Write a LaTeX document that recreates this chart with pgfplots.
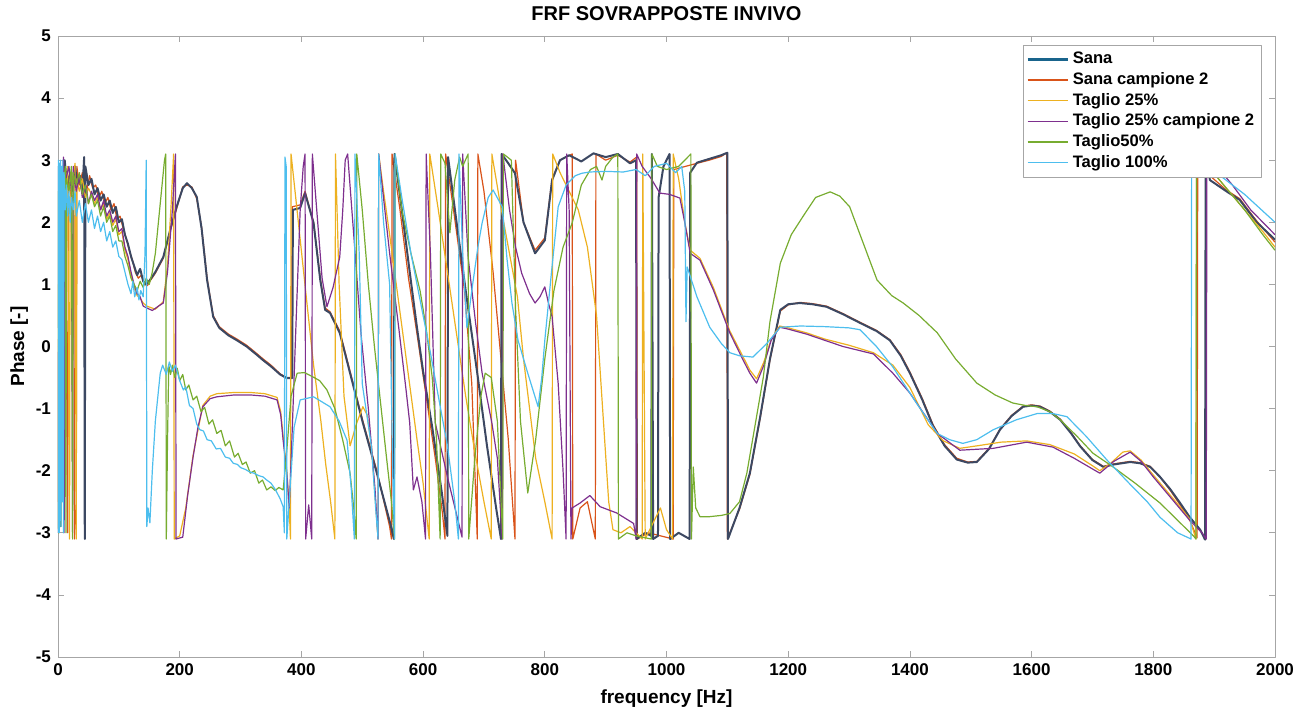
\documentclass[border=0pt]{standalone}
\usepackage{pgfplots}
\pgfplotsset{compat=1.18}
\usepackage{fontspec}
\setmainfont{Liberation Sans}
\definecolor{cSana}{RGB}{25,100,140}
\definecolor{cSanaLine}{RGB}{60,72,98}
\definecolor{cSanaB}{RGB}{217,83,25}
\definecolor{cTa}{RGB}{237,177,32}
\definecolor{cTb}{RGB}{126,47,142}
\definecolor{cTc}{RGB}{119,172,48}
\definecolor{cTd}{RGB}{77,190,238}
\begin{document}
\begin{tikzpicture}
\begin{axis}[
    name=ax,
    scale only axis,
    width=608.5pt, height=310.5pt,
    xmin=0, xmax=2000, ymin=-5, ymax=5,
    xtick={0,200,...,2000}, ytick={-5,-4,...,5},
    tick align=inside,
    major tick length=3pt,
    axis line style={gray!70},
    every tick/.style={gray!70},
    /pgf/number format/assume math mode=true,
    /pgf/number format/1000 sep={},
    tick label style={font=\fontsize{8.5}{10}\selectfont\bfseries},
    xlabel={frequency [Hz]},
    ylabel={Phase [-]},
    ylabel style={yshift=-3pt},
    label style={font=\fontsize{9.5}{11}\selectfont\bfseries},
    title={FRF SOVRAPPOSTE INVIVO},
    title style={font=\fontsize{10}{12}\selectfont\bfseries, yshift=-2pt},
    legend style={at={(0.989,0.9855)}, anchor=north east, draw=gray!70,
        font=\fontsize{8.3}{10}\selectfont\bfseries, row sep=-1.2pt,
        inner sep=1.5pt, cells={anchor=west}},
    legend cell align=left,
    legend image code/.code={\draw[#1] (0pt,0pt) -- (20pt,0pt);},
    line join=round,
]
\addlegendimage{cSana, line width=1.3pt}\addlegendentry{Sana}
\addlegendimage{cSanaB, line width=0.6pt}\addlegendentry{Sana campione 2}
\addlegendimage{cTa, line width=0.6pt}\addlegendentry{Taglio 25\%}
\addlegendimage{cTb, line width=0.6pt}\addlegendentry{Taglio 25\% campione 2}
\addlegendimage{cTc, line width=0.6pt}\addlegendentry{Taglio50\%}
\addlegendimage{cTd, line width=0.6pt}\addlegendentry{Taglio 100\%}

% Sana campione 2
\addplot[cSanaB, line width=0.6pt, forget plot] coordinates {
(0,-2.5)(2,2.8)(6,2.2)(12,2.9)(16,-3.0)(17,2.7)(22,2.4)(26,2.9)(27,-3.1)(30,-2.5)(31,2.9)(35,2.6)(40,2.8)(47,2.5)(52,2.75)(57,2.55)(62,2.6)(67,2.4)(72,2.5)(77,2.3)(82,2.4)(87,2.2)(92,2.3)(97,2.05)(102,2.1)(107,1.9)(112,1.75)(117,1.55)(122,1.4)(127,1.2)(132,1.1)(137,1.15)(142,1.0)(147,0.98)(151,1.05)(160,1.18)(173,1.42)(185,1.88)(195,2.22)(205,2.57)(212,2.6)(220,2.57)(228,2.38)(236,1.92)(245,1.1)(255,0.5)(265,0.32)(280,0.2)(294,0.12)(310,0.02)(325,-0.1)(337,-0.2)(350,-0.3)(365,-0.44)(376,-0.5)(384,-0.5)
(385,2.25)(398,2.28)(406,2.5)(420,2.0)(431,1.1)(439,0.62)(447,0.56)(463,0.25)(480,-0.4)(501,-1.2)(524,-2.0)(545,-2.9)(548,-3.1)(549,3.1)(562,2.2)(576,1.1)(590,0.2)(605,-0.8)(620,-1.8)(632,-2.7)(636,-3.1)(637,3.1)(650,2.2)(668,0.9)(680,-0.6)(689,-3.1)(690,3.1)(700,2.5)(715,1.2)(728,-0.2)(740,-1.5)(751,-3.1)(752,3.0)(765,2.0)(784,1.55)(800,1.75)(812,2.7)(825,3.0)(845,3.1)(846,-3.1)(858,-2.6)(870,-2.5)(883,-3.1)(884,3.1)(900,3.0)(920,3.08)(940,2.97)(951,3.05)(952,-3.1)(970,-3.0)(1011,-3.1)(1012,2.85)(1050,2.95)(1070,3.0)(1090,3.06)(1099,3.12)(1100,-3.1)
(1120,-2.62)(1137,-2.06)(1154,-1.15)(1170,-0.22)(1187,0.57)(1200,0.67)(1219,0.71)(1240,0.69)(1263,0.65)(1290,0.53)(1318,0.39)(1345,0.26)(1367,0.11)(1385,-0.13)(1400,-0.41)(1420,-0.83)(1438,-1.26)(1457,-1.58)(1477,-1.8)(1495,-1.86)(1510,-1.85)(1530,-1.64)(1548,-1.33)(1567,-1.11)(1586,-0.96)(1600,-0.94)(1614,-0.96)(1630,-1.04)(1647,-1.17)(1665,-1.39)(1680,-1.6)(1700,-1.82)(1718,-1.93)(1735,-1.89)(1762,-1.85)(1778,-1.87)(1795,-1.93)(1811,-2.1)(1828,-2.32)(1844,-2.55)(1860,-2.8)(1872,-3.08)(1873,3.1)(1893,2.75)(1920,2.52)(1942,2.38)(1970,2.02)(2000,1.68)
};
% Sana
\addplot[cSanaLine, line width=1.0pt, forget plot] coordinates {
(0,0.3)(1,2.9)(3,-2.9)(5,2.8)(8,2.4)(10,-2.0)(11,3.0)(15,2.6)(20,2.8)(25,2.5)(28,2.9)(32,2.6)(36,2.75)(40,2.5)(43,3.05)(44,-3.1)(45,2.9)(50,2.6)(55,2.7)(60,2.45)(65,2.55)(70,2.35)(75,2.45)(80,2.25)(85,2.35)(90,2.15)(95,2.25)(100,2.0)(105,2.05)(110,1.8)(115,1.65)(120,1.45)(125,1.3)(130,1.15)(135,1.25)(140,1.05)(145,1.0)(151,1.07)(160,1.2)(173,1.44)(185,1.9)(195,2.25)(205,2.55)(212,2.63)(220,2.55)(228,2.41)(236,1.9)(245,1.07)(255,0.48)(265,0.3)(280,0.18)(294,0.1)(310,0.0)(325,-0.12)(337,-0.22)(350,-0.32)(365,-0.45)(376,-0.51)(385,-0.51)
(386,2.2)(398,2.23)(406,2.47)(420,1.99)(431,1.07)(439,0.59)(447,0.54)(463,0.22)(480,-0.43)(501,-1.23)(524,-2.04)(546,-2.85)(552,-3.1)(553,3.1)(565,2.2)(578,1.2)(590,0.3)(600,-0.4)(615,-1.3)(630,-2.3)(640,-3.05)(641,3.05)(655,2.0)(670,0.9)(690,-0.5)(705,-1.6)(720,-2.6)(728,-3.1)(729,3.1)(740,2.95)(751,2.79)(765,2.0)(784,1.5)(800,1.71)(812,2.68)(825,3.0)(840,3.08)(860,2.98)(880,3.11)(900,3.05)(920,3.1)(940,2.95)(950,3.0)(951,-3.1)(965,-3.0)(975,-3.05)(976,3.1)(978,-3.1)(986,-3.05)(987,2.4)(995,2.9)(1005,3.1)(1006,-3.1)(1020,-3.0)(1038,-3.1)(1039,2.8)(1050,2.96)(1070,3.02)(1090,3.08)(1100,3.12)(1101,-3.1)
(1120,-2.6)(1137,-2.04)(1154,-1.13)(1170,-0.2)(1187,0.59)(1200,0.68)(1219,0.70)(1240,0.68)(1263,0.64)(1290,0.52)(1318,0.38)(1345,0.25)(1367,0.10)(1385,-0.15)(1400,-0.43)(1420,-0.85)(1438,-1.28)(1457,-1.6)(1477,-1.82)(1495,-1.87)(1510,-1.86)(1530,-1.65)(1548,-1.34)(1567,-1.12)(1586,-0.97)(1600,-0.95)(1614,-0.97)(1630,-1.05)(1647,-1.18)(1665,-1.4)(1680,-1.61)(1700,-1.83)(1718,-1.94)(1735,-1.9)(1762,-1.86)(1778,-1.88)(1795,-1.94)(1811,-2.10)(1828,-2.3)(1844,-2.52)(1860,-2.75)(1877,-2.95)(1885,-3.11)(1886,3.1)(1893,2.68)(1920,2.5)(1942,2.36)(1970,2.0)(2000,1.72)
};
% Taglio 25%
\addplot[cTa, line width=0.6pt, forget plot] coordinates {
(0,1.0)(1,-3.0)(2,2.7)(4,2.9)(6,-2.5)(8,2.8)(12,2.5)(16,2.9)(19,-3.1)(20,2.8)(24,2.6)(28,2.95)(30,-3.1)(31,2.7)(35,2.5)(40,2.7)(45,2.4)(50,2.55)(55,2.45)(60,2.3)(65,2.4)(70,2.2)(75,2.3)(80,2.05)(85,2.15)(90,1.95)(95,2.05)(100,1.8)(105,1.85)(110,1.55)(115,1.4)(120,1.15)(125,0.95)(130,0.82)(135,0.78)(140,0.7)(146,0.65)(160,0.6)(173,0.72)(180,1.3)(186,2.3)(190,3.1)(191,-3.1)(200,-3.05)(210,-2.6)(222,-1.75)(238,-0.95)(250,-0.8)(261,-0.76)(290,-0.74)(316,-0.74)(340,-0.76)(360,-0.82)(366,-1.05)(370,-1.45)(376,-2.0)(380,-2.6)(382,-3.1)
(383,3.1)(395,2.0)(408,0.8)(420,-0.3)(432,-1.2)(440,-1.9)(448,-2.5)(455,-3.1)(456,3.1)(462,1.0)(470,-0.8)(480,-1.6)(491,-1.23)(501,-0.97)(508,-1.1)(515,-1.6)(521,-2.4)(526,-3.1)(527,3.1)(535,2.5)(545,1.8)(560,0.7)(575,-0.4)(590,-1.5)(600,-2.2)(610,-3.1)(611,3.1)(625,2.2)(640,1.2)(655,0.2)(670,-0.8)(685,-1.7)(700,-2.5)(712,-3.1)(713,3.1)(725,2.4)(740,1.6)(755,0.8)(765,-0.2)(775,-1.0)(785,-1.8)(800,-2.5)(812,-3.1)(813,3.1)(825,2.8)(840,2.5)(855,2.2)(870,1.6)(885,0.5)(895,-1.0)(905,-2.5)(912,-2.95)(925,-3.0)(940,-2.9)(955,-3.05)(960,-3.1)(961,3.1)(965,-3.1)(975,-2.9)(990,-2.6)(1000,-2.95)(1010,-3.1)(1011,3.1)(1020,2.7)(1030,2.0)(1039,1.55)(1055,1.42)(1077,0.95)(1104,0.25)(1125,-0.15)(1137,-0.38)(1148,-0.52)(1160,-0.25)(1172,0.12)(1186,0.33)
(1200,0.3)(1230,0.22)(1260,0.12)(1300,0.02)(1340,-0.1)(1372,-0.3)(1400,-0.66)(1430,-1.26)(1455,-1.52)(1482,-1.64)(1510,-1.6)(1550,-1.54)(1592,-1.52)(1630,-1.58)(1670,-1.73)(1700,-1.92)(1712,-2.0)(1730,-1.88)(1750,-1.7)(1762,-1.68)(1780,-1.83)(1800,-2.07)(1830,-2.42)(1860,-2.78)(1870,-3.1)(1871,3.1)(1890,2.9)(1920,2.55)(1950,2.2)(1980,1.85)(2000,1.6)
};
% Taglio 25% campione 2
\addplot[cTb, line width=0.6pt, forget plot] coordinates {
(0,-3.0)(2,2.9)(4,-2.8)(7,2.6)(9,3.05)(10,-3.0)(13,2.7)(18,2.9)(22,2.5)(24,-3.0)(25,2.9)(30,2.5)(35,2.75)(40,2.4)(46,2.6)(50,2.3)(55,2.5)(60,2.35)(65,2.45)(70,2.2)(75,2.35)(80,2.1)(85,2.2)(90,2.0)(95,2.1)(100,1.85)(105,1.9)(110,1.6)(115,1.45)(120,1.2)(125,1.0)(130,0.85)(135,0.8)(140,0.65)(146,0.62)(155,0.58)(165,0.65)(173,0.70)(180,1.2)(188,2.2)(193,3.1)(194,-3.1)(205,-3.07)(213,-2.4)(222,-1.78)(230,-1.3)(238,-0.97)(250,-0.84)(261,-0.81)(290,-0.78)(316,-0.78)(340,-0.8)(360,-0.86)(366,-1.1)(370,-1.51)(376,-2.04)(380,-2.6)
(384,-1.6)(392,0.6)(398,2.2)(403,2.9)(406,3.1)(407,-3.1)(412,-2.55)(417,-3.1)(418,3.1)(426,2.1)(434,1.1)(442,0.64)(452,0.95)(463,1.44)(468,2.2)(472,3.0)(476,3.1)(486,1.8)(498,0.2)(510,-1.0)(521,-2.3)(526,-3.1)(527,3.1)(545,1.5)(560,0.3)(572,-0.7)(578,-1.23)(584,-2.31)(590,-2.1)(598,-2.5)(604,-3.1)(605,3.1)(612,1.5)(620,-1.23)(640,-2.1)(664,-3.07)(665,3.1)(674,1.44)(686,0.4)(697,-0.43)(713,-1.23)(722,-1.8)(730,-3.1)(731,3.1)(742,2.2)(752,1.6)(762,1.18)(775,0.85)(784,0.70)(792,0.8)(800,0.96)(806,0.7)(812,0.48)(822,-0.6)(830,-2.0)(835,-3.1)(836,3.1)(840,2.2)(843,-3.1)(845,-2.6)(858,-2.52)(874,-2.4)(891,-2.58)(918,-2.68)(946,-2.85)(950,-3.1)(951,3.1)(960,2.9)(975,2.7)(989,2.47)(1005,2.45)(1022,2.39)(1030,2.0)(1039,1.50)(1055,1.39)(1077,0.91)(1104,0.22)(1125,-0.2)(1137,-0.43)(1148,-0.59)(1160,-0.3)(1172,0.1)(1186,0.31)
(1200,0.28)(1230,0.2)(1260,0.1)(1290,0.0)(1340,-0.12)(1372,-0.43)(1400,-0.75)(1445,-1.40)(1482,-1.67)(1537,-1.64)(1592,-1.54)(1635,-1.62)(1670,-1.8)(1712,-2.04)(1735,-1.85)(1762,-1.70)(1780,-1.85)(1800,-2.1)(1830,-2.45)(1860,-2.8)(1880,-3.0)(1887,-3.1)(1888,3.1)(1900,2.95)(1930,2.6)(1960,2.2)(2000,1.8)
};
% Taglio50%
\addplot[cTc, line width=0.6pt, forget plot] coordinates {
(0,2.5)(1,-3.0)(3,2.8)(5,-2.9)(7,2.4)(12,2.9)(13,-3.0)(14,2.7)(18,2.5)(22,2.9)(24,-3.1)(25,2.8)(30,2.6)(35,2.8)(40,2.45)(45,2.6)(50,2.3)(55,2.45)(60,2.25)(65,2.35)(70,2.1)(75,2.25)(80,2.0)(85,2.1)(90,1.85)(95,1.95)(100,1.7)(105,1.7)(110,1.45)(115,1.3)(120,1.1)(125,1.0)(130,0.9)(135,1.05)(140,0.95)(145,1.1)(150,1.0)(155,1.2)(160,1.5)(165,2.0)(170,2.5)(175,3.0)(177,3.1)(178,-3.1)(180,-1.5)(182,-0.3)(185,-0.45)(188,-0.3)(192,-0.5)(196,-0.35)(200,-0.55)(205,-0.45)(210,-0.7)(215,-0.62)(222,-0.86)(228,-0.8)(235,-1.05)(241,-0.98)(248,-1.25)(254,-1.18)(261,-1.40)(268,-1.35)(275,-1.6)(282,-1.52)(290,-1.78)(296,-1.72)(303,-1.9)(309,-1.86)(316,-2.04)(323,-2.0)(330,-2.2)(336,-2.15)(343,-2.31)(350,-2.26)(357,-2.32)(363,-2.27)(370,-2.31)
(375,-1.8)(383,-0.8)(393,-0.43)(405,-0.42)(419,-0.49)(430,-0.55)(442,-0.70)(455,-1.0)(468,-1.51)(480,-2.04)(486,-2.6)(490,-3.1)(491,3.1)(500,2.2)(510,1.0)(520,0.0)(530,-0.9)(540,-1.8)(548,-2.5)(553,-3.1)(554,3.1)(565,2.2)(580,1.5)(595,0.9)(605,0.3)(615,-0.5)(622,-1.5)(628,-3.1)(629,3.1)(636,2.95)(644,1.83)(652,2.68)(660,3.05)(665,2.9)(674,3.1)(675,-3.1)(685,-1.8)(695,-0.8)(702,-0.43)(712,-0.5)(722,-1.2)(731,-3.1)(732,3.1)(745,3.0)(752,0.6)(760,-1.2)(772,-2.36)(785,-1.5)(800,-0.2)(815,0.9)(830,1.6)(845,1.99)(860,2.6)(875,2.85)(885,2.9)(894,2.68)(900,2.9)(912,3.05)(920,3.1)(921,-3.1)(935,-3.0)(950,-3.05)(975,-3.1)(976,3.1)(985,2.9)(1000,2.85)(1020,2.9)(1035,3.05)(1040,3.1)(1041,-3.1)(1044,-1.94)(1048,-2.6)(1055,-2.74)(1071,-2.74)(1090,-2.72)(1104,-2.69)(1120,-2.5)(1132,-2.04)(1145,-1.3)(1159,-0.5)(1170,0.4)(1187,1.34)
(1205,1.8)(1224,2.09)(1245,2.4)(1269,2.49)(1285,2.42)(1301,2.25)(1320,1.75)(1346,1.07)(1370,0.82)(1389,0.70)(1415,0.5)(1445,0.22)(1475,-0.2)(1510,-0.59)(1540,-0.78)(1569,-0.91)(1590,-0.95)(1609,-0.97)(1630,-1.05)(1647,-1.18)(1675,-1.45)(1701,-1.72)(1734,-1.94)(1770,-2.2)(1811,-2.52)(1840,-2.8)(1866,-3.05)(1870,-3.1)(1871,3.1)(1890,2.9)(1920,2.55)(1950,2.2)(1980,1.8)(2000,1.55)
};
% Taglio 100%
\addplot[cTd, line width=0.6pt, forget plot] coordinates {
(0,-3.0)(0.5,3.0)(1,-2.9)(1.5,2.9)(2,-3.0)(2.5,2.95)(3,-2.8)(4,3.0)(5,-2.9)(6,2.9)(7,-2.5)(8,3.0)(9,-3.0)(10,2.8)(12,2.2)(14,2.6)(16,2.1)(18,2.5)(20,2.0)(22,2.4)(25,2.2)(28,2.5)(30,2.1)(35,2.35)(40,2.0)(45,2.3)(50,2.0)(55,2.2)(60,1.9)(65,2.1)(70,1.85)(75,2.0)(80,1.7)(85,1.85)(90,1.6)(95,1.7)(100,1.45)(105,1.4)(110,1.2)(115,1.0)(120,0.85)(123,1.05)(126,0.8)(130,0.95)(133,0.75)(136,0.9)(140,0.8)(143,1.5)(145,3.0)(146,-2.9)(148,-2.6)(151,-2.84)(155,-2.0)(160,-1.2)(168,-0.43)(172,-0.3)(178,-0.45)(183,-0.25)(188,-0.4)(193,-0.3)(200,-0.55)(206,-0.7)(210,-0.65)(216,-0.95)(222,-1.0)(228,-1.25)(233,-1.34)(239,-1.36)(245,-1.5)(252,-1.52)(260,-1.65)(267,-1.64)(275,-1.78)(282,-1.8)(288,-1.88)(295,-1.9)(300,-1.95)(308,-1.98)(315,-2.02)(322,-2.04)(330,-2.08)(337,-2.1)(343,-2.15)(350,-2.2)(357,-2.3)(365,-2.45)(370,-2.58)(372,-3.0)
(373,3.05)(375,2.9)(376,-3.1)(380,-2.5)(388,-1.3)(398,-0.86)(420,-0.81)(447,-0.97)(462,-1.2)(475,-1.51)(482,-2.3)(487,-3.1)(488,3.1)(495,1.5)(500,-0.6)(508,-1.13)(515,-1.6)(522,-2.6)(526,-3.1)(527,3.1)(535,2.0)(545,1.0)(550,-2.0)(553,-3.1)(554,3.1)(565,2.4)(580,1.5)(600,0.5)(612,-0.1)(625,-0.8)(640,-1.6)(652,-2.5)(658,-3.1)(659,3.1)(665,1.5)(672,0.3)(680,0.9)(690,1.6)(697,1.99)(707,2.4)(715,2.52)(730,2.25)(738,1.4)(746,0.7)(756,0.1)(772,-0.43)(789,-0.97)(795,-0.5)(800,0.1)(811,1.2)(822,2.25)(835,2.6)(850,2.75)(861,2.79)(874,2.81)(900,2.82)(929,2.81)(950,2.85)(965,2.75)(980,2.9)(1000,2.95)(1015,2.8)(1025,2.9)(1030,2.5)(1032,0.4)(1034,1.28)(1050,0.8)(1071,0.31)(1090,0.05)(1104,-0.1)(1120,-0.15)(1142,-0.17)(1165,0.05)(1187,0.31)
(1220,0.33)(1260,0.32)(1300,0.3)(1318,0.27)(1345,0.0)(1372,-0.33)(1410,-0.9)(1445,-1.40)(1465,-1.5)(1487,-1.56)(1510,-1.5)(1537,-1.34)(1575,-1.18)(1609,-1.08)(1635,-1.08)(1658,-1.13)(1690,-1.45)(1724,-1.83)(1760,-2.2)(1790,-2.5)(1811,-2.75)(1840,-3.0)(1862,-3.1)(1863,3.1)(1880,3.0)(1910,2.75)(1950,2.45)(2000,2.0)
};
\end{axis}
\pgfresetboundingbox
\path ([shift={(-29pt,-32.5pt)}]ax.south west) rectangle ([shift={(17pt,18pt)}]ax.north east);
\end{tikzpicture}
\end{document}
